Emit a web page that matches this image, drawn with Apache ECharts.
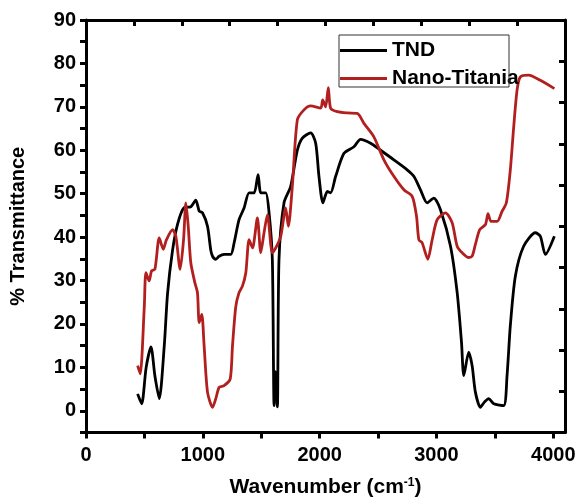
<!DOCTYPE html>
<html>
<head>
<meta charset="utf-8">
<script src="https://cdn.jsdelivr.net/npm/echarts@6/dist/echarts.min.js"></script>
<style>
	html, body { margin: 0; padding: 0; background: #fff; }
	#box { width: 582px; height: 503px; }
</style>
</head>
<body>
<div id="box"></div>
<script>
// FTIR spectra
var tndWave = [442, 476, 515, 556, 590, 627, 670, 698, 741, 784, 840, 897, 940, 969, 997, 1040, 1068, 1083, 1111, 1140, 1182, 1239, 1268, 1310, 1353, 1396, 1439, 1473, 1496, 1538, 1567, 1595, 1610, 1622, 1638, 1652, 1695, 1752, 1809, 1852, 1923, 1966, 1994, 2028, 2066, 2094, 2137, 2208, 2293, 2350, 2436, 2521, 2635, 2749, 2806, 2863, 2920, 2977, 3034, 3120, 3177, 3214, 3234, 3276, 3305, 3333, 3376, 3410, 3447, 3490, 3575, 3604, 3632, 3675, 3746, 3846, 3889, 3932, 4009];
var tndTrans = [3.9, 1.6, 10, 14.7, 8, 2.8, 15, 27, 37, 43, 46.8, 47, 48.5, 46, 45.6, 42.5, 37, 35.6, 34.9, 35.6, 36, 36, 38.7, 44, 46.7, 50.2, 50.2, 54.4, 50.2, 50.2, 45.6, 34.9, 1.2, 9, 0.9, 34.9, 47.9, 51.7, 60, 62.8, 64, 61.6, 54, 47.9, 50.5, 50.2, 54, 59.3, 60.8, 62.5, 61.6, 60, 57.8, 55.5, 54, 50.9, 47.9, 49, 46.3, 37.9, 27.2, 15.8, 8.1, 13.5, 10.4, 4.3, 0.8, 2, 2.8, 1.6, 1.2, 8.1, 19.6, 31, 37.9, 41, 40.2, 36, 40.2];

var titaniaWave = [442, 464, 499, 513, 541, 561, 590, 627, 661, 689, 741, 769, 806, 835, 855, 875, 897, 932, 954, 969, 991, 1011, 1040, 1083, 1111, 1140, 1182, 1234, 1254, 1282, 1310, 1339, 1368, 1396, 1425, 1467, 1496, 1524, 1553, 1595, 1624, 1667, 1709, 1732, 1766, 1809, 1866, 1923, 2009, 2026, 2051, 2074, 2094, 2151, 2237, 2322, 2379, 2464, 2550, 2635, 2721, 2792, 2829, 2849, 2877, 2926, 2963, 3006, 3077, 3134, 3177, 3220, 3276, 3305, 3333, 3370, 3419, 3441, 3467, 3519, 3561, 3598, 3632, 3661, 3690, 3718, 3789, 3889, 4009];
var titaniaTrans = [10.4, 8.5, 24, 31.8, 29.9, 32.2, 32.6, 39.8, 37.2, 39.4, 41.7, 40.2, 32.6, 39.4, 47.9, 42.5, 34.1, 29.5, 27.2, 20.3, 22.2, 15, 4.3, 0.8, 2.8, 5.4, 5.8, 7.3, 15, 24, 27.2, 28.7, 31.8, 39.4, 37.5, 44.4, 36.4, 41, 45.2, 36.4, 37.5, 40.2, 46.7, 42.5, 51.7, 67, 69.3, 70.2, 69.7, 71.6, 70, 74.4, 69.7, 68.9, 68.6, 68.5, 66.2, 63.1, 57.8, 54, 50.9, 49.4, 44.8, 39.4, 38.7, 34.9, 39.4, 44, 45.6, 43.3, 37.9, 36.4, 35.3, 35.6, 38.3, 41.7, 42.9, 45.4, 43.6, 43.6, 45.9, 47.9, 55.5, 65.4, 73.9, 76.9, 77.3, 76.1, 74.2];

var seriesNames = ['TND', 'Nano-Titania'];
var xLabels = [0, 1000, 2000, 3000, 4000];
var xTicks = [0, 500, 1000, 1500, 2000, 2500, 3000, 3500, 4000];
var yLabels = [0, 10, 20, 30, 40, 50, 60, 70, 80, 90];
var yTicks = [-5, 0, 5, 10, 15, 20, 25, 30, 35, 40, 45, 50, 55, 60, 65, 70, 75, 80, 85, 90];

function pairs(xs, ys) {
	var out = [];
	for (var i = 0; i < xs.length; i++) {
		out.push([xs[i], ys[i]]);
	}
	return out;
}

var FONT = '"Liberation Sans", Arial, sans-serif';
var frameLine = { show: true, onZero: false, lineStyle: { color: '#000', width: 3 } };
var plainNum = function (v) { return String(v); };

var myChart = echarts.init(document.getElementById('box'));
var option = {
	animation: false,
	grid: { left: 85, top: 20, right: 17, bottom: 70, containLabel: false },
	legend: {
		data: seriesNames,
		orient: 'vertical',
		left: 340,
		top: 40,
		padding: 0,
		icon: 'rect',
		itemWidth: 47,
		itemHeight: 3,
		itemGap: 7,
		textStyle: { fontFamily: FONT, fontWeight: 'bold', fontSize: 21, color: '#000', lineHeight: 20 }
	},
	graphic: [{
		type: 'rect',
		shape: { x: 339, y: 35, width: 170, height: 52 },
		style: { fill: 'none', stroke: '#333', lineWidth: 1 },
		z: 10
	}],
	xAxis: [{
		type: 'value',
		position: 'bottom',
		min: 0,
		max: 4100,
		interval: 500,
		name: 'Wavenumber (cm{sup|-1})',
		nameLocation: 'middle',
		nameGap: 44,
		nameTextStyle: {
			fontFamily: FONT, fontWeight: 'bold', fontSize: 21, color: '#000',
			rich: { sup: { fontFamily: FONT, fontWeight: 'bold', fontSize: 12, color: '#000', verticalAlign: 'top', padding: [0, 0, 10, 0] } }
		},
		axisLine: frameLine,
		axisTick: { show: true, customValues: xTicks, length: 6, lineStyle: { color: '#000', width: 3 } },
		axisLabel: { customValues: xLabels, formatter: plainNum, margin: 13, fontFamily: FONT, fontWeight: 'bold', fontSize: 20, color: '#000' },
		splitLine: { show: false }
	}, {
		type: 'value',
		position: 'top',
		min: 0,
		max: 10,
		interval: 1,
		axisLine: frameLine,
		axisTick: { show: true, inside: true, length: 6, lineStyle: { color: '#000', width: 3 } },
		axisLabel: { show: false },
		splitLine: { show: false }
	}],
	yAxis: [{
		type: 'value',
		position: 'left',
		min: -5,
		max: 90,
		interval: 5,
		name: '% Transmittance',
		nameLocation: 'middle',
		nameGap: 58,
		nameTextStyle: { fontFamily: FONT, fontWeight: 'bold', fontSize: 20, color: '#000' },
		axisLine: frameLine,
		axisTick: { show: true, customValues: yTicks, length: 6, lineStyle: { color: '#000', width: 3 } },
		axisLabel: { customValues: yLabels, formatter: plainNum, margin: 10, fontFamily: FONT, fontWeight: 'bold', fontSize: 20, color: '#000' },
		splitLine: { show: false }
	}, {
		type: 'value',
		position: 'right',
		min: 0,
		max: 10,
		interval: 1,
		axisLine: frameLine,
		axisTick: { show: true, inside: true, length: 6, lineStyle: { color: '#000', width: 3 } },
		axisLabel: { show: false },
		splitLine: { show: false }
	}],
	series: [{
		name: seriesNames[0],
		type: 'line',
		xAxisIndex: 0,
		yAxisIndex: 0,
		symbol: 'none',
		smooth: 0.25,
		lineStyle: { color: '#000', width: 2.8 },
		itemStyle: { color: '#000' },
		data: pairs(tndWave, tndTrans)
	}, {
		name: seriesNames[1],
		type: 'line',
		xAxisIndex: 0,
		yAxisIndex: 0,
		symbol: 'none',
		smooth: 0.25,
		lineStyle: { color: '#b21f1f', width: 2.8 },
		itemStyle: { color: '#b21f1f' },
		data: pairs(titaniaWave, titaniaTrans)
	}]
};
myChart.setOption(option);
</script>
</body>
</html>
